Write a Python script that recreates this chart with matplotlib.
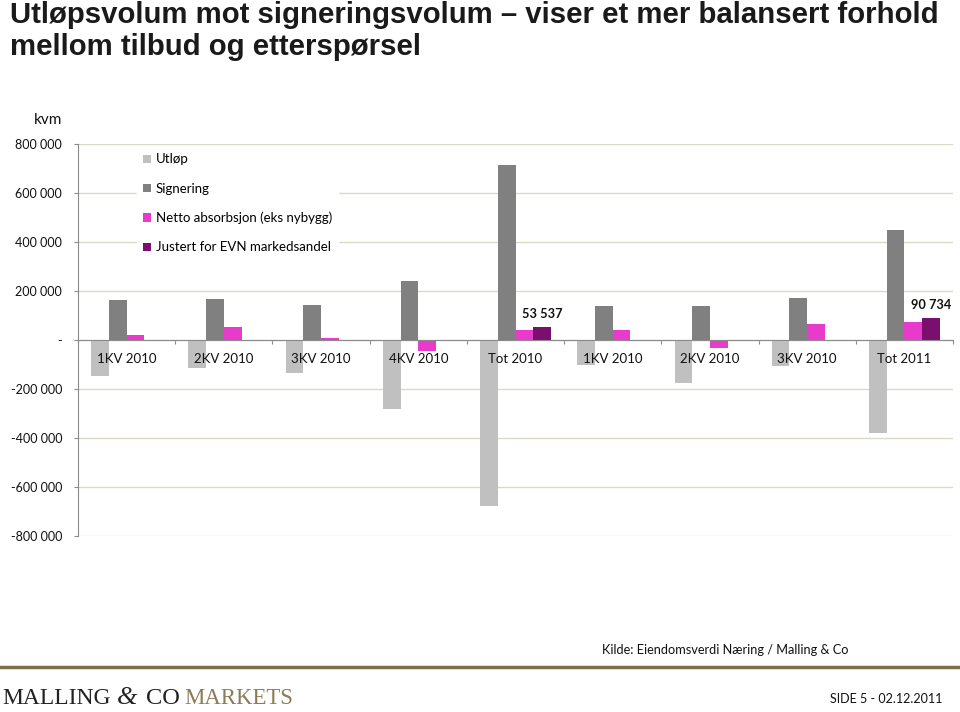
import matplotlib
matplotlib.use("Agg")
import matplotlib.pyplot as plt
import numpy as np
from matplotlib.ticker import FixedLocator, FuncFormatter

categories = ["1KV 2010", "2KV 2010", "3KV 2010", "4KV 2010", "Tot 2010",
              "1KV 2010", "2KV 2010", "3KV 2010", "Tot 2011"]
utlop = [-146000, -116000, -136000, -283000, -676000, -100000, -174000, -108000, -380000]
signering = [163000, 167000, 142000, 240000, 714000, 139000, 139000, 171000, 449000]
netto = [19000, 53000, 7000, -44000, 40000, 41000, -34000, 65000, 72000]
justert = [np.nan, np.nan, np.nan, np.nan, 53537, np.nan, np.nan, np.nan, 90734]
series_names = ["Utløp", "Signering", "Netto absorbsjon (eks nybygg)", "Justert for EVN markedsandel"]
yticks = [-800000, -600000, -400000, -200000, 0, 200000, 400000, 600000, 800000]

colors = ["#c0c0c0", "#808080", "#e83acb", "#7a0f6e"]

plt.rcParams['font.family'] = ['Lato', 'DejaVu Sans']

fig = plt.figure(figsize=(9.6, 7.12), dpi=100)
ax = fig.add_axes([78/960, 1-536/712, (953-78)/960, (536-144)/712])
renderer = fig.canvas.get_renderer()


def fit_text(t, target_px):
    """Scale font size so the text spans target_px pixels wide."""
    bb = t.get_window_extent(renderer=renderer)
    t.set_fontsize(t.get_fontsize() * target_px / bb.width)


x = np.arange(len(categories))
n = 4
w = 1/5.5
offsets = (np.arange(n) - 1.5) * w
for i, (vals, c, name) in enumerate(zip([utlop, signering, netto, justert], colors, series_names)):
    ax.bar(x + offsets[i], vals, width=w, color=c, label=name, zorder=3)

# data labels for Justert
for xi, v in zip(x, justert):
    if not np.isnan(v):
        ax.annotate(f"{int(v):,}".replace(",", " "), (xi + offsets[3], v),
                    xytext=(0, 5), textcoords='offset points',
                    ha='center', va='bottom', fontsize=9.2, fontweight='bold', color='#111111', zorder=7)

# category labels drawn above bars
for xi, cat in zip(x, categories):
    ax.annotate(cat, (xi, 0), xytext=(0, -13.5), textcoords='offset points',
                ha='center', va='center', fontsize=9.5, color='#111111', zorder=7)

ax.set_xlim(-0.5, len(categories) - 0.5)
ax.set_ylim(-800000, 800000)
ax.set_yticks(yticks)
ax.yaxis.set_major_formatter(FuncFormatter(lambda v, p: "-" if v == 0 else f"{int(v):,}".replace(",", " ")))
ax.grid(axis='y', color='#dcd9c6', lw=1, zorder=0)
ax.set_axisbelow(True)

for s in ['top', 'right']:
    ax.spines[s].set_visible(False)
ax.spines['left'].set_color('#8a8a8a')
ax.spines['bottom'].set_position(('data', 0))
ax.spines['bottom'].set_color('#8a8a8a')
ax.spines['bottom'].set_zorder(4)

ax.xaxis.set_major_locator(FixedLocator(np.arange(len(categories) + 1) - 0.5))
ax.xaxis.set_major_formatter(FuncFormatter(lambda v, p: ""))
ax.tick_params(axis='x', which='major', direction='out', length=3, color='#8a8a8a')
ax.tick_params(axis='y', direction='out', length=3, color='#8a8a8a', labelsize=9, labelcolor='#111111', pad=8.5)

leg = ax.legend(loc='upper left', bbox_to_anchor=(0.06, 1.008), frameon=True, fancybox=False,
                edgecolor='white', facecolor='white', framealpha=1, fontsize=9.5,
                handlelength=0.6, handleheight=0.6, handletextpad=0.35, labelspacing=1.3,
                borderpad=0.45)
leg.set_zorder(6)

fig.text(48/960, 1-120/712, "kvm", ha='center', va='center', fontsize=11, color='#111111')

title = fig.text(10/960, 1-1/712, "Utløpsvolum mot signeringsvolum – viser et mer balansert forhold\nmellom tilbud og etterspørsel",
                 ha='left', va='top', fontsize=19.5, fontweight='bold', color='#1a1a1a',
                 family=['Liberation Sans', 'DejaVu Sans'], linespacing=1.2)
fit_text(title, 930)

fig.text(848/960, 1-650/712, "Kilde: Eiendomsverdi Næring / Malling & Co", ha='right', va='center',
         fontsize=9.2, color='#111111')

fig.add_artist(plt.Line2D([0, 1], [1-667/712, 1-667/712], transform=fig.transFigure,
                          color='#7d6f4e', lw=2.5))

serif = ['Liberation Serif', 'DejaVu Serif']
logo_y = 1-698/712
t1 = fig.text(2/960, logo_y, "MALLING", ha='left', va='center', fontsize=17, color='#222222', family=serif)
fit_text(t1, 108)
t2 = fig.text(117/960, logo_y, "&", ha='left', va='center', fontsize=19, color='#222222', family=serif, style='italic')
t3 = fig.text(146/960, logo_y, "CO", ha='left', va='center', fontsize=17, color='#222222', family=serif)
fit_text(t3, 34)
t4 = fig.text(184/960, logo_y, "MARKETS", ha='left', va='center', fontsize=17, color='#8c7b57', family=serif)
fit_text(t4, 109)

fig.text(942/960, 1-699/712, "SIDE 5 - 02.12.2011", ha='right', va='center', fontsize=9, color='#111111')

fig.savefig("out.png", dpi=100)
